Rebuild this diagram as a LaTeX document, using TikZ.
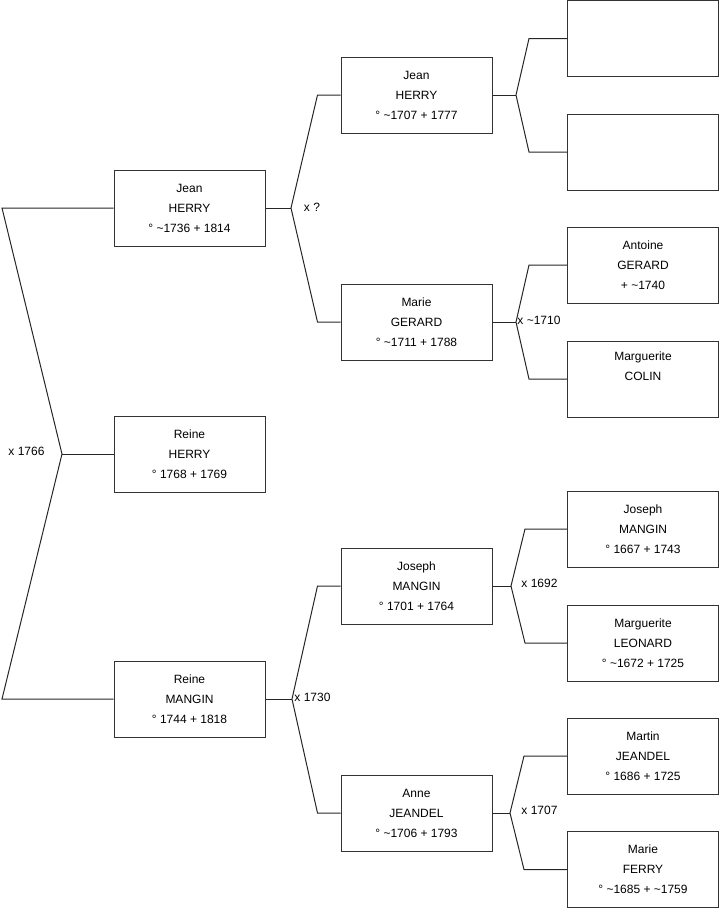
\documentclass[tikz,border=0pt]{standalone}
\usepackage{fontspec}
\setmainfont{Liberation Sans}
\usetikzlibrary{positioning}
\newcommand{\tld}{\textasciitilde}

\begin{document}
\begin{tikzpicture}[x=0.75pt,y=-0.75pt,
  person/.style={draw=black!80,line width=0.75pt,minimum width=113.25pt,minimum height=57pt,
    inner sep=0pt,align=center,font=\fontsize{9}{15}\selectfont},
  link/.style={draw=black!85,line width=0.75pt},
  wed/.style={font=\fontsize{9}{11}\selectfont,inner sep=0pt}]
  \useasboundingbox (0,0) rectangle (719,908);
  % Generation 1
  \node[person] (jean1) at (189.5,208) {Jean\\HERRY\\° \tld1736 + 1814};
  \node[person] (reine) at (189.5,454) {Reine\\HERRY\\° 1768 + 1769};
  \node[person] (rmang) at (189.5,699) {Reine\\MANGIN\\° 1744 + 1818};
  % Generation 2
  \node[person] (jean2) at (416.5,95) {Jean\\HERRY\\° \tld1707 + 1777};
  \node[person] (marie2) at (416.5,322) {Marie\\GERARD\\° \tld1711 + 1788};
  \node[person] (jos2) at (416.5,586) {Joseph\\MANGIN\\° 1701 + 1764};
  \node[person] (anne2) at (416.5,813) {Anne\\JEANDEL\\° \tld1706 + 1793};
  % Generation 3
  \node[person] (empty1) at (643,38.5) {};
  \node[person] (empty2) at (643,152) {};
  \node[person] (ant3) at (643,265) {Antoine\\GERARD\\+ \tld1740};
  \node[person] (marg3) at (643,379) {Marguerite\\COLIN\\\strut};
  \node[person] (jos3) at (643,529) {Joseph\\MANGIN\\° 1667 + 1743};
  \node[person] (leo3) at (643,643) {Marguerite\\LEONARD\\° \tld1672 + 1725};
  \node[person] (mart3) at (643,756) {Martin\\JEANDEL\\° 1686 + 1725};
  \node[person] (ferry3) at (643,869.5) {Marie\\FERRY\\° \tld1685 + \tld1759};
  % Junctions
  \coordinate (u0) at (62,454);
  \coordinate (u1) at (291,208);
  \coordinate (u2) at (292,699);
  \coordinate (u3) at (516,95);
  \coordinate (u4) at (516,322);
  \coordinate (u5) at (511,586);
  \coordinate (u6) at (510,813);
  % Links
  \draw[link] (jean1.west) -- (2,208) -- (u0) -- (2,699) -- (rmang.west);
  \draw[link] (u0) -- (reine.west);
  \draw[link] (jean2.west) -- ([xshift=-17.25pt]jean2.west) -- (u1) -- ([xshift=-17.25pt]marie2.west) -- (marie2.west);
  \draw[link] (jean1.east) -- (u1);
  \draw[link] (jos2.west) -- ([xshift=-17.25pt]jos2.west) -- (u2) -- ([xshift=-17.25pt]anne2.west) -- (anne2.west);
  \draw[link] (rmang.east) -- (u2);
  \draw[link] (empty1.west) -- ([xshift=-28.5pt]empty1.west) -- (u3) -- ([xshift=-28.5pt]empty2.west) -- (empty2.west);
  \draw[link] (jean2.east) -- (u3);
  \draw[link] (ant3.west) -- ([xshift=-28.5pt]ant3.west) -- (u4) -- ([xshift=-28.5pt]marg3.west) -- (marg3.west);
  \draw[link] (marie2.east) -- (u4);
  \draw[link] (jos3.west) -- ([xshift=-31.5pt]jos3.west) -- (u5) -- ([xshift=-31.5pt]leo3.west) -- (leo3.west);
  \draw[link] (jos2.east) -- (u5);
  \draw[link] (mart3.west) -- ([xshift=-32.25pt]mart3.west) -- (u6) -- ([xshift=-32.25pt]ferry3.west) -- (ferry3.west);
  \draw[link] (anne2.east) -- (u6);
  % Marriages
  \node[wed] (w0) at (26.5,451) {x 1766};
  \node[wed] (w1) at (312,207) {x ?};
  \node[wed] (w4) at (539,320) {x \tld1710};
  \node[wed] (w2) at (312.5,697) {x 1730};
  \node[wed] (w5) at (539.5,583) {x 1692};
  \node[wed] (w6) at (539.5,810) {x 1707};
\end{tikzpicture}
\end{document}
